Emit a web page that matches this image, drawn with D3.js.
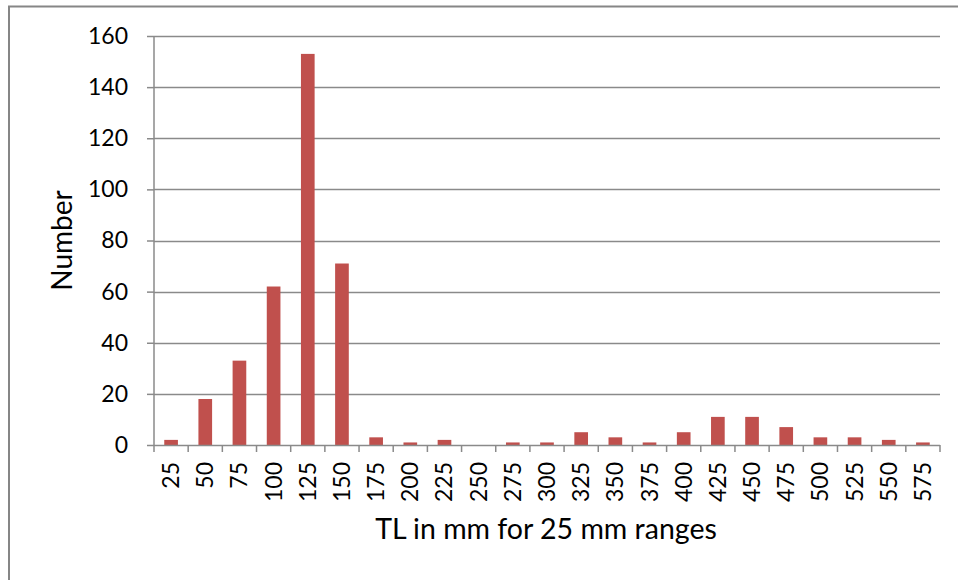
<!DOCTYPE html>
<html>
<head>
<meta charset="utf-8">
<script src="https://cdn.jsdelivr.net/npm/d3@7"></script>
<style>
  html, body { margin: 0; padding: 0; background: #fff; }
  svg { display: block; }
  text { font-family: Lato, "Open Sans", sans-serif; fill: #000; }
</style>
</head>
<body>
<svg id="chart" width="958" height="580"></svg>
<script>
const categories = ["25","50","75","100","125","150","175","200","225","250","275","300","325","350","375","400","425","450","475","500","525","550","575"];
const counts = [2,18,33,62,153,71,3,1,2,0,1,1,5,3,1,5,11,11,7,3,3,2,1];
const yTicks = [0,20,40,60,80,100,120,140,160];
const xTitle = "TL in mm for 25 mm ranges";
const yTitle = "Number";

const svg = d3.select("#chart");
const plot = { left: 154, right: 940, top: 36, bottom: 445 };

// outer chart border
svg.append("rect")
  .attr("x", 9).attr("y", 6.5)
  .attr("width", 1000).attr("height", 600)
  .attr("fill", "none").attr("stroke", "#868686").attr("stroke-width", 2);

const xb = d3.scaleBand().domain(categories).range([plot.left, plot.right]);
const y = d3.scaleLinear().domain([0, 160]).range([plot.bottom, plot.top]);

// gridlines
svg.append("g").selectAll("line").data(yTicks.filter(d => d > 0)).join("line")
  .attr("x1", plot.left).attr("x2", plot.right)
  .attr("y1", d => Math.round(y(d)) + 0.5).attr("y2", d => Math.round(y(d)) + 0.5)
  .attr("stroke", "#8a8a8a").attr("stroke-width", 1.5);

// bars
const bw = xb.bandwidth() / 2.5;
svg.append("g").selectAll("rect").data(categories).join("rect")
  .attr("x", (d) => xb(d) + xb.bandwidth() / 2 - bw / 2)
  .attr("width", bw)
  .attr("y", (d, i) => y(counts[i]))
  .attr("height", (d, i) => plot.bottom - y(counts[i]))
  .attr("fill", "#c0504d");

// y axis
const yAxis = d3.axisLeft(y).tickValues(yTicks).tickSize(7).tickPadding(19);
const gy = svg.append("g").attr("transform", `translate(${plot.left},0)`).call(yAxis);
gy.select(".domain").attr("stroke", "#8a8a8a").attr("stroke-width", 1.5).attr("d", `M0,${plot.top}V${plot.bottom}`);
gy.selectAll(".tick line").attr("stroke", "#8a8a8a").attr("stroke-width", 1.5);
gy.selectAll(".tick text").style("font-family", "Lato, sans-serif").style("font-size", "23px").attr("fill", "#000");

// x axis: ticks at band boundaries
const bounds = categories.map(c => xb(c)).concat([plot.right]);
svg.append("line")
  .attr("x1", plot.left).attr("x2", plot.right)
  .attr("y1", plot.bottom + 0.5).attr("y2", plot.bottom + 0.5)
  .attr("stroke", "#8a8a8a").attr("stroke-width", 1.5);
svg.append("g").selectAll("line").data(bounds).join("line")
  .attr("x1", d => d).attr("x2", d => d)
  .attr("y1", plot.bottom).attr("y2", plot.bottom + 7)
  .attr("stroke", "#8a8a8a").attr("stroke-width", 1.5);

svg.append("g").selectAll("text").data(categories).join("text")
  .attr("transform", d => `translate(${xb(d) + xb.bandwidth() / 2 + 8},${plot.bottom + 17}) rotate(-90)`)
  .attr("text-anchor", "end")
  .style("font-size", "23px")
  .text(d => d);

// axis titles
svg.append("text")
  .attr("x", (plot.left + plot.right) / 2 - 1).attr("y", 539)
  .attr("text-anchor", "middle").style("font-size", "28.5px")
  .text(xTitle);

svg.append("text")
  .attr("transform", `translate(72,${(plot.top + plot.bottom) / 2}) rotate(-90)`)
  .attr("text-anchor", "middle").style("font-size", "28px")
  .text(yTitle);
</script>
</body>
</html>
